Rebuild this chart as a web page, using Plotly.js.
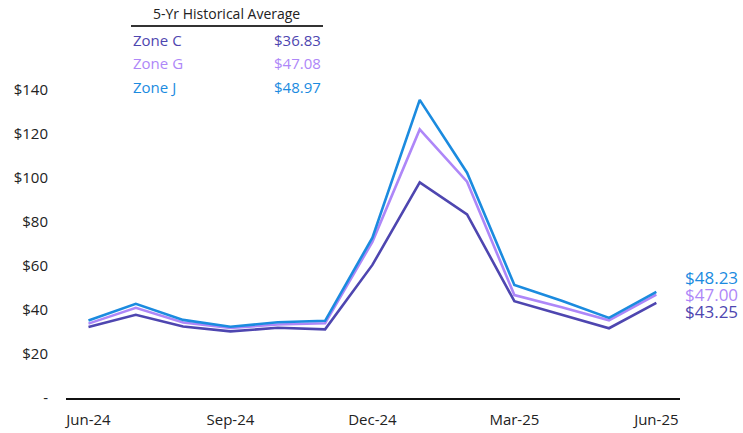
<!DOCTYPE html>
<html>
<head>
<meta charset="utf-8">
<script src="https://cdn.plot.ly/plotly-3.0.1.min.js"></script>
<style>html,body{margin:0;padding:0;background:#fff;}#chart{width:743px;height:433px;}</style>
</head>
<body>
<div id="chart"></div>
<script>
const months = ['Jun-24','Jul-24','Aug-24','Sep-24','Oct-24','Nov-24','Dec-24','Jan-25','Feb-25','Mar-25','Apr-25','May-25','Jun-25'];
const tickMonths = ['Jun-24','Sep-24','Dec-24','Mar-25','Jun-25'];
const zoneC = [32.3, 37.8, 32.5, 30.3, 31.9, 31.2, 60.5, 98.0, 83.5, 44.0, 37.8, 31.7, 43.25];
const zoneG = [33.8, 41.0, 34.3, 31.8, 33.4, 34.0, 71.0, 122.1, 98.3, 46.8, 41.3, 35.3, 47.00];
const zoneJ = [35.2, 42.8, 35.5, 32.4, 34.4, 35.1, 72.9, 135.5, 102.4, 51.4, 44.2, 36.4, 48.23];
const zoneNames = ['Zone C','Zone G','Zone J'];
const histAvg = [36.83, 47.08, 48.97];
const tableTitle = '5-Yr Historical Average';
const yTickVals = [0, 20, 40, 60, 80, 100, 120, 140];
const yTickText = ['-', '$20', '$40', '$60', '$80', '$100', '$120', '$140'];

const colors = ['#4E46B0', '#AE87F8', '#1B8BDF'];
const series = [zoneC, zoneG, zoneJ];
const FONT = 'Open Sans, Noto Sans, sans-serif';

const traces = series.map((s, i) => ({
  x: months, y: s, type: 'scatter', mode: 'lines', name: zoneNames[i],
  line: {color: colors[i], width: 2.6}, hoverinfo: 'skip'
}));

const annotations = [];
// end labels
const endShift = [-9, 0, 14];
series.forEach((s, i) => {
  annotations.push({
    x: months[months.length - 1], y: s[s.length - 1], xref: 'x', yref: 'y',
    text: '$' + s[s.length - 1].toFixed(2), showarrow: false,
    xanchor: 'left', yanchor: 'middle', xshift: 27, yshift: endShift[i],
    font: {family: FONT, size: 17, color: colors[i]}
  });
});
// table
annotations.push({
  x: 226, y: 13, xref: 'paper', yref: 'paper', text: tableTitle, showarrow: false,
  font: {family: FONT, size: 14, color: '#222'}, xanchor: 'center', yanchor: 'middle'
});
const rowY = [40, 63, 87];
zoneNames.forEach((z, i) => {
  annotations.push({
    x: 131, y: rowY[i], text: z, showarrow: false, xanchor: 'left', yanchor: 'middle',
    font: {family: FONT, size: 15, color: colors[i]}
  });
  annotations.push({
    x: 323, y: rowY[i], text: '$' + histAvg[i].toFixed(2), showarrow: false, xanchor: 'right', yanchor: 'middle',
    font: {family: FONT, size: 15, color: colors[i]}
  });
});

const W = 743, H = 433, L = 66, R = 63, T = 46, B = 35;
// convert pixel positions of table to paper coords
annotations.forEach(a => {
  if (a.xref === undefined) { a.xref = 'paper'; a.yref = 'paper'; }
  if (a.xref === 'paper') {
    a.x = (a.x - L) / (W - L - R);
    a.y = (H - B - a.y) / (H - T - B);
  }
});

const layout = {
  width: W, height: H,
  margin: {l: L, r: R, t: T, b: B, pad: 0},
  paper_bgcolor: '#fff', plot_bgcolor: '#fff',
  showlegend: false,
  font: {family: FONT, size: 14, color: '#222'},
  xaxis: {
    type: 'category', range: [-0.475, 12.5],
    tickmode: 'array', tickvals: tickMonths, ticktext: tickMonths,
    showgrid: false, zeroline: false,
    showline: true, linecolor: '#111', linewidth: 2,
    ticks: 'outside', ticklen: 7, tickcolor: 'rgba(0,0,0,0)',
    tickfont: {family: FONT, size: 15, color: '#222'}
  },
  yaxis: {
    range: [0, 160], tickmode: 'array', tickvals: yTickVals, ticktext: yTickText,
    showgrid: false, zeroline: false, showline: false,
    ticks: 'outside', ticklen: 14, tickcolor: 'rgba(0,0,0,0)',
    tickfont: {family: FONT, size: 15, color: '#222'}
  },
  shapes: [{
    type: 'line', xref: 'paper', yref: 'paper',
    x0: (131 - L) / (W - L - R), x1: (323 - L) / (W - L - R),
    y0: (H - B - 26) / (H - T - B), y1: (H - B - 26) / (H - T - B),
    line: {color: '#333', width: 2}
  }],
  annotations: annotations
};

Plotly.newPlot('chart', traces, layout, {displayModeBar: false, staticPlot: true});
</script>
</body>
</html>
